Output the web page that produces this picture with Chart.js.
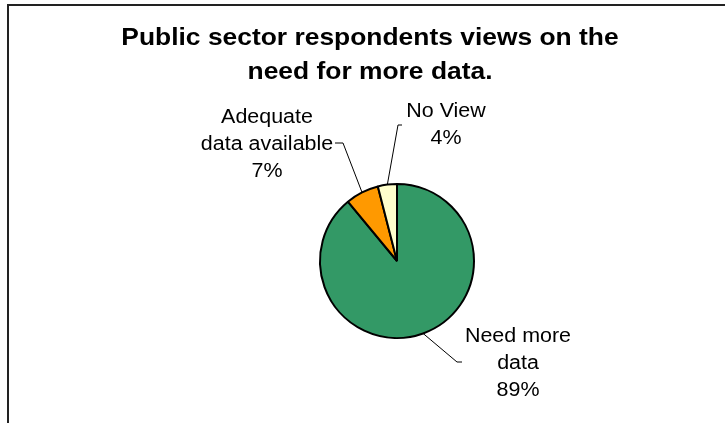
<!DOCTYPE html>
<html lang="en">
<head>
    <meta charset="UTF-8">
    <title>Public sector respondents views on the need for more data</title>
    <script src="https://cdn.jsdelivr.net/npm/chart.js"></script>
    <style>
        body { margin: 0; background: #fff; }
        canvas { display: block; }
    </style>
</head>
<body>
    <canvas id="pie" width="725" height="423"></canvas>

    <script>
        // data
        const categories = ['Need more data', 'Adequate data available', 'No View'];
        const shares = [89, 7, 4];
        const labelLines = [['Need more', 'data'], ['Adequate', 'data available'], ['No View']];
        const sliceColors = ['#339966', '#FF9900', '#FFFFCC'];
        const titleLines = ['Public sector respondents views on the', 'need for more data.'];

        // where the data labels sit, relative to the pie centre (dx, dy of first baseline)
        // and where each leader line bends / ends
        const labelLayout = [
            { dx: 121, dy: 81, elbow: [60, 101], end: [65, 101] },
            { dx: -130, dy: -138, elbow: [-54, -118], end: [-62, -118] },
            { dx: 49, dy: -144, elbow: [1, -136], end: [5, -136] }
        ];

        const FONT = 'Arial, "Liberation Sans", sans-serif';
        const SX = 1.1; // the original text is a bit wider than it is tall

        function wideText(ctx, txt, x, y) {
            ctx.save();
            ctx.translate(x, y);
            ctx.scale(SX, 1);
            ctx.fillText(txt, 0, 0);
            ctx.restore();
        }

        const decorations = {
            id: 'decorations',
            beforeDraw(chart) {
                const ctx = chart.ctx;
                ctx.save();
                ctx.fillStyle = '#fff';
                ctx.fillRect(0, 0, chart.width, chart.height);
                // chart frame (runs off the right and bottom)
                ctx.strokeStyle = '#222';
                ctx.lineWidth = 2;
                ctx.beginPath();
                ctx.moveTo(8, 423);
                ctx.lineTo(8, 5);
                ctx.lineTo(725, 5);
                ctx.stroke();
                ctx.restore();
            },
            afterDraw(chart) {
                const ctx = chart.ctx;
                ctx.save();
                // title
                ctx.fillStyle = '#000';
                ctx.textAlign = 'center';
                ctx.textBaseline = 'alphabetic';
                ctx.font = 'bold 24px ' + FONT;
                titleLines.forEach((t, i) => wideText(ctx, t, 370, 45 + i * 34));

                // data labels with leader lines
                const arcs = chart.getDatasetMeta(0).data;
                const total = shares.reduce((a, b) => a + b, 0);
                ctx.font = '19.5px ' + FONT;
                arcs.forEach((arc, i) => {
                    const cx = arc.x, cy = arc.y;
                    const mid = (arc.startAngle + arc.endAngle) / 2;
                    const r = arc.outerRadius;
                    const lay = labelLayout[i];
                    ctx.strokeStyle = '#000';
                    ctx.lineWidth = 1;
                    ctx.beginPath();
                    ctx.moveTo(cx + r * Math.cos(mid), cy + r * Math.sin(mid));
                    ctx.lineTo(cx + lay.elbow[0], cy + lay.elbow[1]);
                    ctx.lineTo(cx + lay.end[0], cy + lay.end[1]);
                    ctx.stroke();

                    const lines = labelLines[i].concat([Math.round(shares[i] / total * 100) + '%']);
                    lines.forEach((t, j) => wideText(ctx, t, cx + lay.dx, cy + lay.dy + j * 26.8));
                });
                ctx.restore();
            }
        };

        new Chart(document.getElementById('pie'), {
            type: 'pie',
            data: {
                labels: categories,
                datasets: [{
                    data: shares,
                    backgroundColor: sliceColors,
                    borderColor: '#000',
                    borderWidth: 2,
                    hoverOffset: 0
                }]
            },
            options: {
                responsive: false,
                animation: false,
                radius: 77,
                layout: { padding: { left: 200, right: 131, top: 150, bottom: 51 } },
                plugins: {
                    legend: { display: false },
                    tooltip: { enabled: false },
                    title: { display: false }
                }
            },
            plugins: [decorations]
        });
    </script>
</body>
</html>
